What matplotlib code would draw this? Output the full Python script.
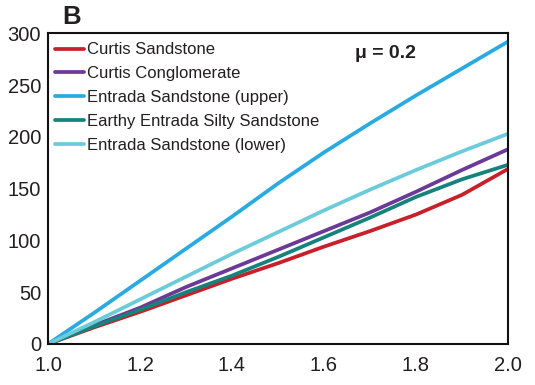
import matplotlib
matplotlib.use("Agg")
import matplotlib.pyplot as plt

plt.rcParams['font.family'] = ['Liberation Sans', 'DejaVu Sans']

x = [1.0, 1.1, 1.2, 1.3, 1.4, 1.5, 1.6, 1.7, 1.8, 1.9, 2.0]
curtis_sandstone = [0, 16, 31, 47, 63, 78, 94, 109, 125, 144, 169]
curtis_conglomerate = [0, 18, 35, 55, 73, 91, 109, 127, 147, 168, 188]
entrada_upper = [0, 30, 61, 92, 123, 155, 185, 213, 240, 266, 292]
earthy_entrada = [0, 17, 33, 50, 66, 84, 103, 122, 142, 159, 173]
entrada_lower = [0, 21, 43, 65, 87, 108, 129, 149, 168, 186, 203]

series = [
    ("Curtis Sandstone", curtis_sandstone, "#C8202A"),
    ("Curtis Conglomerate", curtis_conglomerate, "#6C3996"),
    ("Entrada Sandstone (upper)", entrada_upper, "#29ABE2"),
    ("Earthy Entrada Silty Sandstone", earthy_entrada, "#15837B"),
    ("Entrada Sandstone (lower)", entrada_lower, "#6CCBDB"),
]
xticks = [1.0, 1.2, 1.4, 1.6, 1.8, 2.0]
yticks = [0, 50, 100, 150, 200, 250, 300]

fig = plt.figure(figsize=(5.35, 3.85), dpi=100)
ax = fig.add_axes([0.0897, 0.1065, 0.8598, 0.807])

for label, vals, color in series:
    ax.plot(x, vals, color=color, lw=2.7, label=label,
            solid_capstyle='round', solid_joinstyle='round')

ax.set_xlim(1.0, 2.0)
ax.set_ylim(0, 300)
ax.set_xticks(xticks)
ax.set_xticklabels([f"{t:.1f}" for t in xticks])
ax.set_yticks(yticks)
ax.tick_params(length=0, labelsize=14.5, colors='#231F20')
ax.tick_params(axis='x', pad=9)
ax.tick_params(axis='y', pad=5)
for s in ax.spines.values():
    s.set_linewidth(1.5)
    s.set_color('#111111')

leg = ax.legend(loc='upper left', bbox_to_anchor=(0.0, 0.992), frameon=False,
                fontsize=12, handlelength=1.75, handletextpad=0.18,
                labelspacing=0.53, borderaxespad=0.2, borderpad=0.2)
for t in leg.get_texts():
    t.set_color('#231F20')

ax.text(0.7326, 0.9205, "μ = 0.2", transform=ax.transAxes, fontsize=14,
        fontweight='bold', ha='center', va='baseline', color='#231F20')
fig.text(71.5 / 535, 1 - 17.5 / 385, "B", fontsize=18.5, fontweight='bold',
         ha='center', va='center', color='#231F20')

fig.savefig("out.png", dpi=100)
